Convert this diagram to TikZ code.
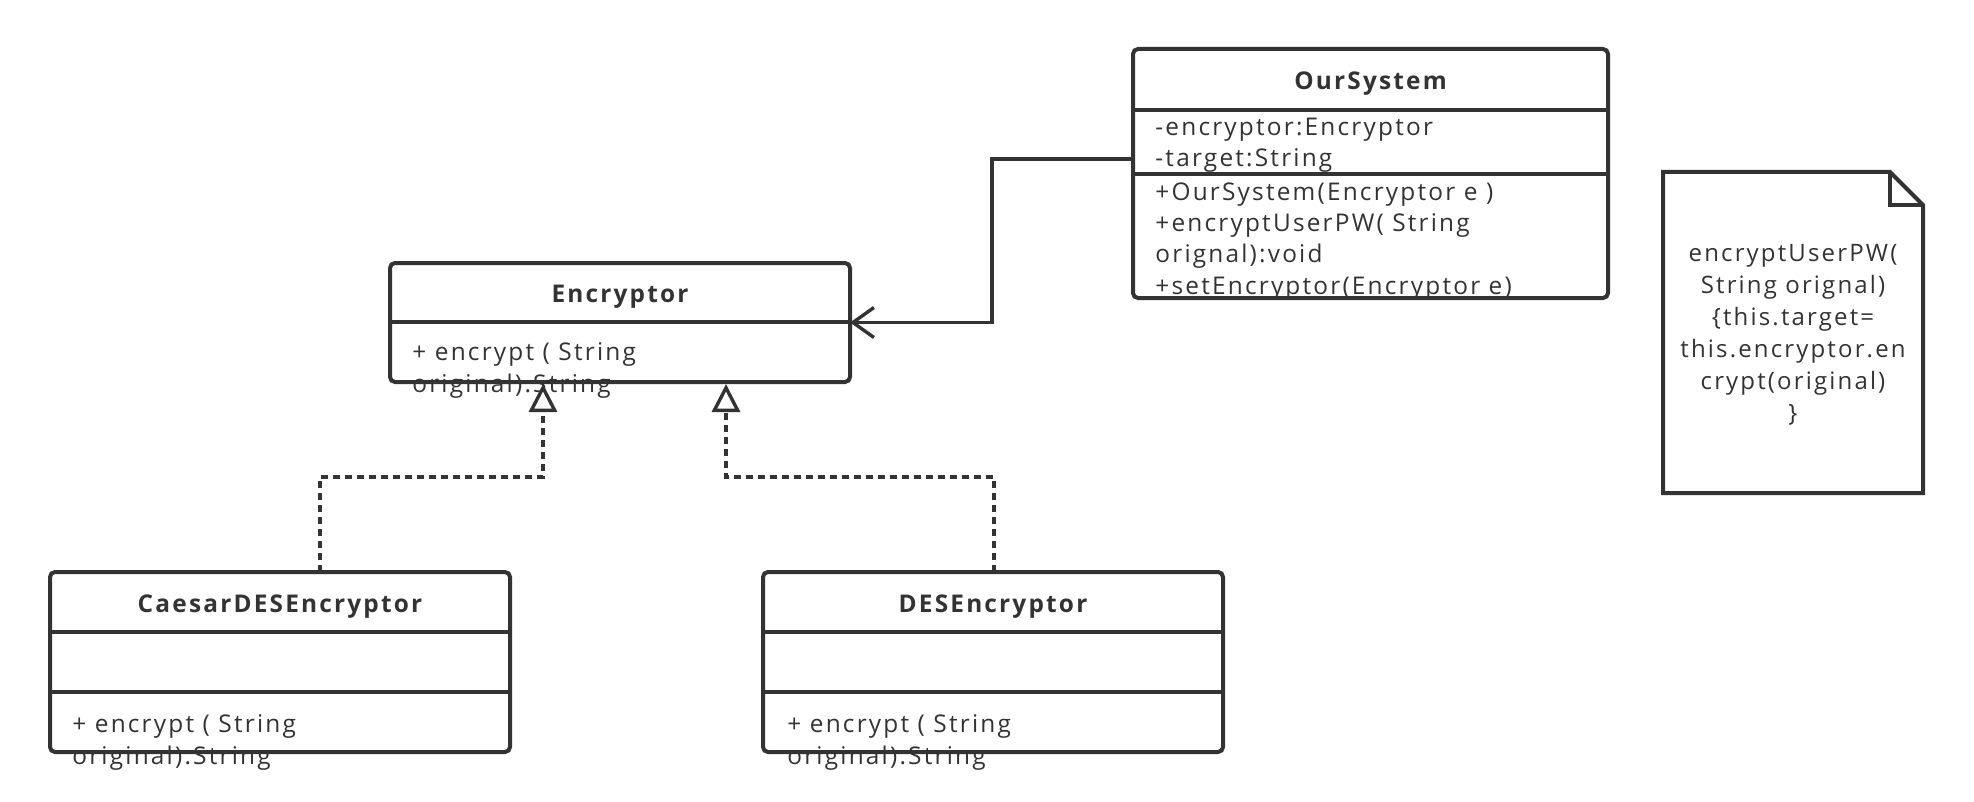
\documentclass[tikz,border=0pt]{standalone}
\usepackage{fontspec}
\setmainfont{Open Sans}[LetterSpace=9]
\usetikzlibrary{arrows.meta,fit,calc}
\definecolor{ink}{HTML}{333333}
\begin{document}
\begin{tikzpicture}[x=0.5pt,y=-0.5pt,
  classbox/.style={draw=ink, line width=2pt, rounded corners=2.5pt, inner sep=0pt, outer sep=0pt},
  divider/.style={draw=ink, line width=2pt},
  title/.style={font=\bfseries\fontsize{12.2}{14}\selectfont, text=ink, inner sep=0pt},
  member/.style={font=\fontsize{12.2}{14}\selectfont, text=ink, inner sep=0pt, anchor=base west},
  notetext/.style={font=\fontsize{12}{16}\selectfont, text=ink, align=center, inner sep=0pt},
  assoc/.style={draw=ink, line width=1.7pt, -{Straight Barb[length=10.5pt, width=15pt]}},
  realize/.style={draw=ink, line width=1.7pt, dash pattern=on 3.5pt off 2.5pt,
    -{Triangle[open, length=14pt, width=14pt, fill=white]}, shorten >=1pt}
]
\useasboundingbox (0,0) rectangle (1974,802);

% ---------- texts ----------
\node[title] (enc-t) at (620,297) {Encryptor};
\node[member] (enc-m1) at (412,360) {+ encrypt ( String};
\node[member] (enc-m2) at (412,392) {original).String};

\node[title] (os-t) at (1370.5,84) {OurSystem};
\node[member] (os-a1) at (1155,136) {-encryptor:Encryptor};
\node[member] (os-a2) at (1155,167) {-target:String};
\node[member] (os-m1) at (1155,201) {+OurSystem(Encryptor e )};
\node[member] (os-m2) at (1155,232) {+encryptUserPW( String};
\node[member] (os-m3) at (1155,263) {orignal):void};
\node[member] (os-m4) at (1155,294) {+setEncryptor(Encryptor e)};

\node[title] (cs-t) at (280,607) {CaesarDESEncryptor};
\node[member] (cs-m1) at (72,732) {+ encrypt ( String};
\node[member] (cs-m2) at (72,764) {original).String};

\node[title] (des-t) at (993,607) {DESEncryptor};
\node[member] (des-m1) at (787,732) {+ encrypt ( String};
\node[member] (des-m2) at (787,764) {original).String};

\node[notetext] (note-t) at (1793,335) {encryptUserPW(\\String orignal)\\\{this.target=\\this.encryptor.en\\crypt(original)\\\}};

% ---------- boxes ----------
\node[classbox, fit={(390,263) (850,382)}] (enc) {};
\draw[divider] (enc.west |- 0,322) -- (enc.east |- 0,322);

\node[classbox, fit={(1133,49) (1608,298)}] (os) {};
\draw[divider] (os.west |- 0,110) -- (os.east |- 0,110);
\draw[divider] (os.west |- 0,174) -- (os.east |- 0,174);

\node[classbox, fit={(50,572) (510,752)}] (cs) {};
\draw[divider] (cs.west |- 0,632) -- (cs.east |- 0,632);
\draw[divider] (cs.west |- 0,692) -- (cs.east |- 0,692);

\node[classbox, fit={(763,572) (1223,752)}] (des) {};
\draw[divider] (des.west |- 0,632) -- (des.east |- 0,632);
\draw[divider] (des.west |- 0,692) -- (des.east |- 0,692);

% note
\node[inner sep=0pt, outer sep=0pt, fit={(1663,172) (1923,493)}] (note) {};
\draw[ink, line width=2pt, line join=miter]
  (note.north west) -- ($(note.north east)+(-33,0)$) -- ($(note.north east)+(0,33)$)
  -- (note.south east) -- (note.south west) -- cycle;
\draw[ink, line width=2pt, line join=miter]
  ($(note.north east)+(-33,0)$) -- ($(note.north east)+(-33,33)$) -- ($(note.north east)+(0,33)$);

% ---------- connectors ----------
\draw[assoc] (os.west |- 0,159) -- (992,159) |- (enc.east);
\draw[realize] (cs.north -| 320,0) |- (543,477) -- (enc.south -| 543,0);
\draw[realize] (des.north -| 994,0) |- (726,477) -- (enc.south -| 726,0);
\end{tikzpicture}
\end{document}
